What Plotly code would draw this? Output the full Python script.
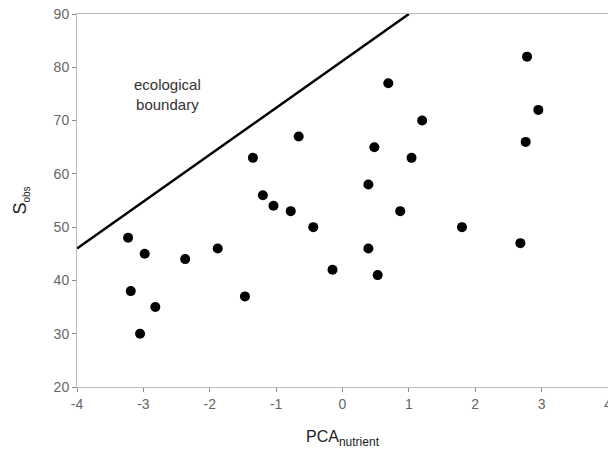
import plotly.graph_objects as go

pca_nutrient = [-3.23, -3.19, -3.05, -2.98, -2.82, -2.37, -1.88, -1.47, -1.35, -1.20,
                -1.04, -0.78, -0.66, -0.44, -0.15, 0.39, 0.39, 0.48, 0.53, 0.69,
                0.87, 1.04, 1.20, 1.80, 2.68, 2.76, 2.78, 2.95]
s_obs = [48, 38, 30, 45, 35, 44, 46, 37, 63, 56,
         54, 53, 67, 50, 42, 58, 46, 65, 41, 77,
         53, 63, 70, 50, 47, 66, 82, 72]

boundary_x = [-4, 1]
boundary_y = [46, 90]

x_ticks = [-4, -3, -2, -1, 0, 1, 2, 3, 4]
x_tick_labels = ["-4", "-3", "-2", "-1", "0", "1", "2", "3", "4"]
y_ticks = [20, 30, 40, 50, 60, 70, 80, 90]

fig = go.Figure()
fig.add_trace(go.Scatter(x=boundary_x, y=boundary_y, mode="lines",
                         line=dict(color="black", width=2.5), cliponaxis=True,
                         showlegend=False, hoverinfo="skip"))
fig.add_trace(go.Scatter(x=pca_nutrient, y=s_obs, mode="markers",
                         marker=dict(color="black", size=10),
                         showlegend=False))

fig.add_annotation(x=-2.63, y=74.8, text="ecological<br>boundary", showarrow=False,
                   font=dict(family="Liberation Sans, Arial", size=15, color="#333"))

axis_font = dict(family="Liberation Sans, Arial", size=14, color="#666")
fig.update_layout(
    width=608, height=456,
    margin=dict(l=77, r=0, t=14, b=69),
    plot_bgcolor="white", paper_bgcolor="white",
    xaxis=dict(range=[-4, 4], tickvals=x_ticks, ticktext=x_tick_labels,
               showgrid=False, zeroline=False, automargin=False,
               ticklabeloverflow="allow",
               showline=True, linecolor="#bbb", linewidth=1, mirror=True,
               ticks="outside", ticklen=4, tickcolor="#888", tickfont=axis_font,
               title=dict(text="PCA<sub><span style='font-size:12px'>nutrient</span></sub>",
                          standoff=20,
                          font=dict(family="Liberation Sans, Arial", size=16, color="#222"))),
    yaxis=dict(range=[20, 90], tickvals=y_ticks, showgrid=False, zeroline=False,
               automargin=False,
               showline=True, linecolor="#bbb", linewidth=1,
               ticks="outside", ticklen=4, tickcolor="#888", tickfont=axis_font,
               title=dict(text="S<sub><span style='font-size:10px'>obs</span></sub>",
                          standoff=22,
                          font=dict(family="Liberation Sans, Arial", size=18, color="#222"))),
)

fig.write_html("out.html", config={"displayModeBar": False},
               post_script="document.body.style.margin='0';")
